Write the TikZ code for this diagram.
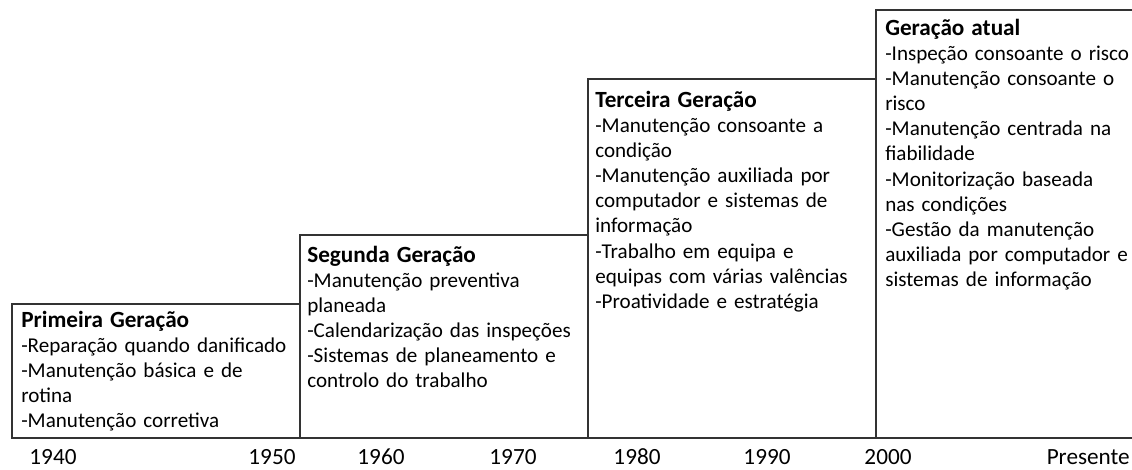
\documentclass[tikz,border=0pt]{standalone}
\usepackage{fontspec}
\setmainfont{Carlito}

\newcommand{\gentitle}[1]{{\fontsize{16.5}{17.9}\selectfont\bfseries #1}}

\begin{document}
\begin{tikzpicture}[x=0.025cm, y=-0.025cm]
    % Define styles
    \tikzset{
        genbox/.style={draw=black!80, line width=1.3pt},
        gentext/.style={anchor=base west, align=left, inner sep=0pt, text width=7.2cm,
            font=\fontsize{15}{17.9}\selectfont},
        yearlabel/.style={inner sep=0pt, font=\fontsize{16.5}{19}\selectfont}
    }

    % Picture area
    \clip (0,0) rectangle (1132,469);

    % Generation steps
    \draw[genbox] (12,304) rectangle (300,438);
    \draw[genbox] (300,235) rectangle (588,438);
    \draw[genbox] (588,79) rectangle (876,438);
    \draw[genbox] (876,10) rectangle (1150,438);

    % Primeira Geracao
    \node[gentext] (gen1) at (21,327) {\gentitle{Primeira Geração}\\
        -Reparação quando danificado\\
        -Manutenção básica e de\\
        rotina\\
        -Manutenção corretiva};

    % Segunda Geracao
    \node[gentext] (gen2) at (307,262) {\gentitle{Segunda Geração}\\
        -Manutenção preventiva\\
        planeada\\
        -Calendarização das inspeções\\
        -Sistemas de planeamento e\\
        controlo do trabalho};

    % Terceira Geracao
    \node[gentext] (gen3) at (595,107) {\gentitle{Terceira Geração}\\
        -Manutenção consoante a\\
        condição\\
        -Manutenção auxiliada por\\
        computador e sistemas de\\
        informação\\
        -Trabalho em equipa e\\
        equipas com várias valências\\
        -Proatividade e estratégia};

    % Geracao atual
    \node[gentext, text width=6.3cm] (gen4) at (885,35) {\gentitle{Geração atual}\\
        -Inspeção consoante o risco\\
        -Manutenção consoante o\\
        risco\\
        -Manutenção centrada na\\
        fiabilidade\\
        -Monitorização baseada\\
        nas condições\\
        -Gestão da manutenção\\
        auxiliada por computador e\\
        sistemas de informação};

    % Time axis
    \node[yearlabel] (y1940) at (53,457) {1940};
    \node[yearlabel] (y1950) at (272,457) {1950};
    \node[yearlabel] (y1960) at (381,457) {1960};
    \node[yearlabel] (y1970) at (513,457) {1970};
    \node[yearlabel] (y1980) at (637,457) {1980};
    \node[yearlabel] (y1990) at (767,457) {1990};
    \node[yearlabel] (y2000) at (888,457) {2000};
    \node[yearlabel, anchor=east] (ypres) at (1130,457) {Presente};

\end{tikzpicture}
\end{document}
